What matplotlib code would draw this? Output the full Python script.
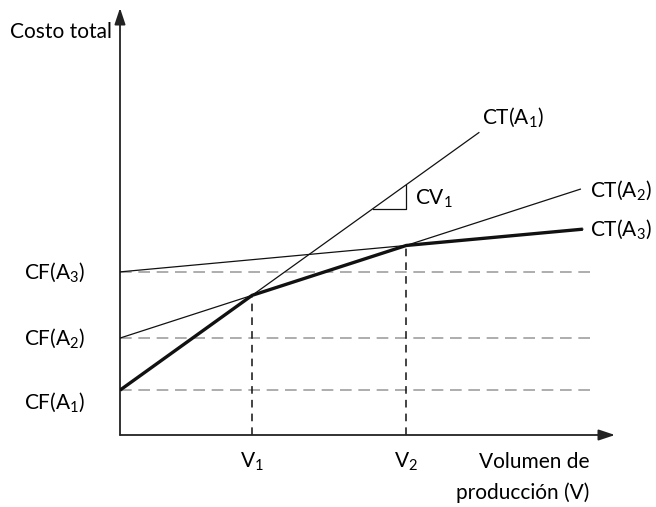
import matplotlib
matplotlib.use("Agg")
import matplotlib.pyplot as plt
import numpy as np

FONT = ["Lato", "DejaVu Sans"]
plt.rcParams["font.family"] = FONT
plt.rcParams["mathtext.fontset"] = "custom"
plt.rcParams["mathtext.rm"] = "Lato"
plt.rcParams["mathtext.it"] = "Lato"
plt.rcParams["mathtext.bf"] = "Lato:bold"

# fixed cost (intercept) and variable cost (slope) per alternative
alternatives = ["A$_1$", "A$_2$", "A$_3$"]
fixed_cost = [1.05, 2.27, 3.82]
var_cost = [0.832, 0.375, 0.107]
line_end = [7.25, 9.3, 9.35]
x_max = 10
y_max = 10

CF = np.array(fixed_cost)
CV = np.array(var_cost)
# breakeven volumes
V1 = (CF[1] - CF[0]) / (CV[0] - CV[1])
V2 = (CF[2] - CF[1]) / (CV[1] - CV[2])


def cost(i, x):
    return CF[i] + CV[i] * x


W, H = 656, 507
fig = plt.figure(figsize=(W / 100, H / 100), dpi=100)
ax = fig.add_axes([120 / W, (H - 435) / H, (615 - 120) / W, (435 - 8) / H])
ax.set_xlim(0, x_max)
ax.set_ylim(0, y_max)
ax.axis("off")

# axes with arrows
arrow = dict(arrowstyle="-|>,head_length=0.9,head_width=0.3", lw=1.3,
             color="#222", mutation_scale=11, shrinkA=0, shrinkB=0)
ax.annotate("", xy=(x_max, 0), xytext=(0, 0), arrowprops=arrow, annotation_clip=False)
ax.annotate("", xy=(0, y_max), xytext=(0, 0), arrowprops=arrow, annotation_clip=False)

# grey dashed fixed-cost levels
for c in CF:
    ax.plot([0, 9.49], [c, c], color="#a0a0a0", lw=1.2, dashes=(7, 4), zorder=1)

# vertical dashed at breakeven volumes
for v, i in [(V1, 0), (V2, 1)]:
    ax.plot([v, v], [0, cost(i, v)], color="#111", lw=1.1, dashes=(5, 4), zorder=2)

# thin total cost lines
for i in range(3):
    xs = np.array([0, line_end[i]])
    ax.plot(xs, cost(i, xs), color="#111", lw=0.9, zorder=3)

# thick lower envelope
env_x = np.array([0, V1, V2, line_end[2]])
env_y = [cost(0, 0), cost(0, V1), cost(1, V2), cost(2, line_end[2])]
ax.plot(env_x, env_y, color="#111", lw=2.4, solid_capstyle="butt", zorder=4)

fs = 15
kw = dict(fontsize=fs, clip_on=False)

# slope triangle CV1
tx0, tx1 = 5.11, V2
ax.plot([tx0, tx1, tx1], [cost(0, tx0), cost(0, tx0), cost(0, tx1)],
        color="#111", lw=0.9, zorder=3)
ax.text(tx1 + 0.17, cost(0, tx0) + 0.22, "CV$_1$", va="center", ha="left", **kw)

# line labels
ax.text(7.31, 7.45, "CT(" + alternatives[0] + ")", va="center", ha="left", **kw)
ax.text(9.49, 5.74, "CT(" + alternatives[1] + ")", va="center", ha="left", **kw)
ax.text(9.49, 4.82, "CT(" + alternatives[2] + ")", va="center", ha="left", **kw)

# y labels
offs = [-0.28, 0.0, 0.0]
for c, a, o in zip(CF, alternatives, offs):
    ax.text(-0.71, c + o, "CF(" + a + ")", va="center", ha="right", **kw)
ax.text(-0.16, 9.44, "Costo total", va="center", ha="right", **kw)

# x labels
ax.text(V1, -0.63, "V$_1$", va="center", ha="center", **kw)
ax.text(V2, -0.63, "V$_2$", va="center", ha="center", **kw)
ax.text(9.49, -0.63, "Volumen de", va="center", ha="right", **kw)
ax.text(9.49, -1.36, "producción (V)", va="center", ha="right", **kw)

fig.savefig("out.png", dpi=100)
